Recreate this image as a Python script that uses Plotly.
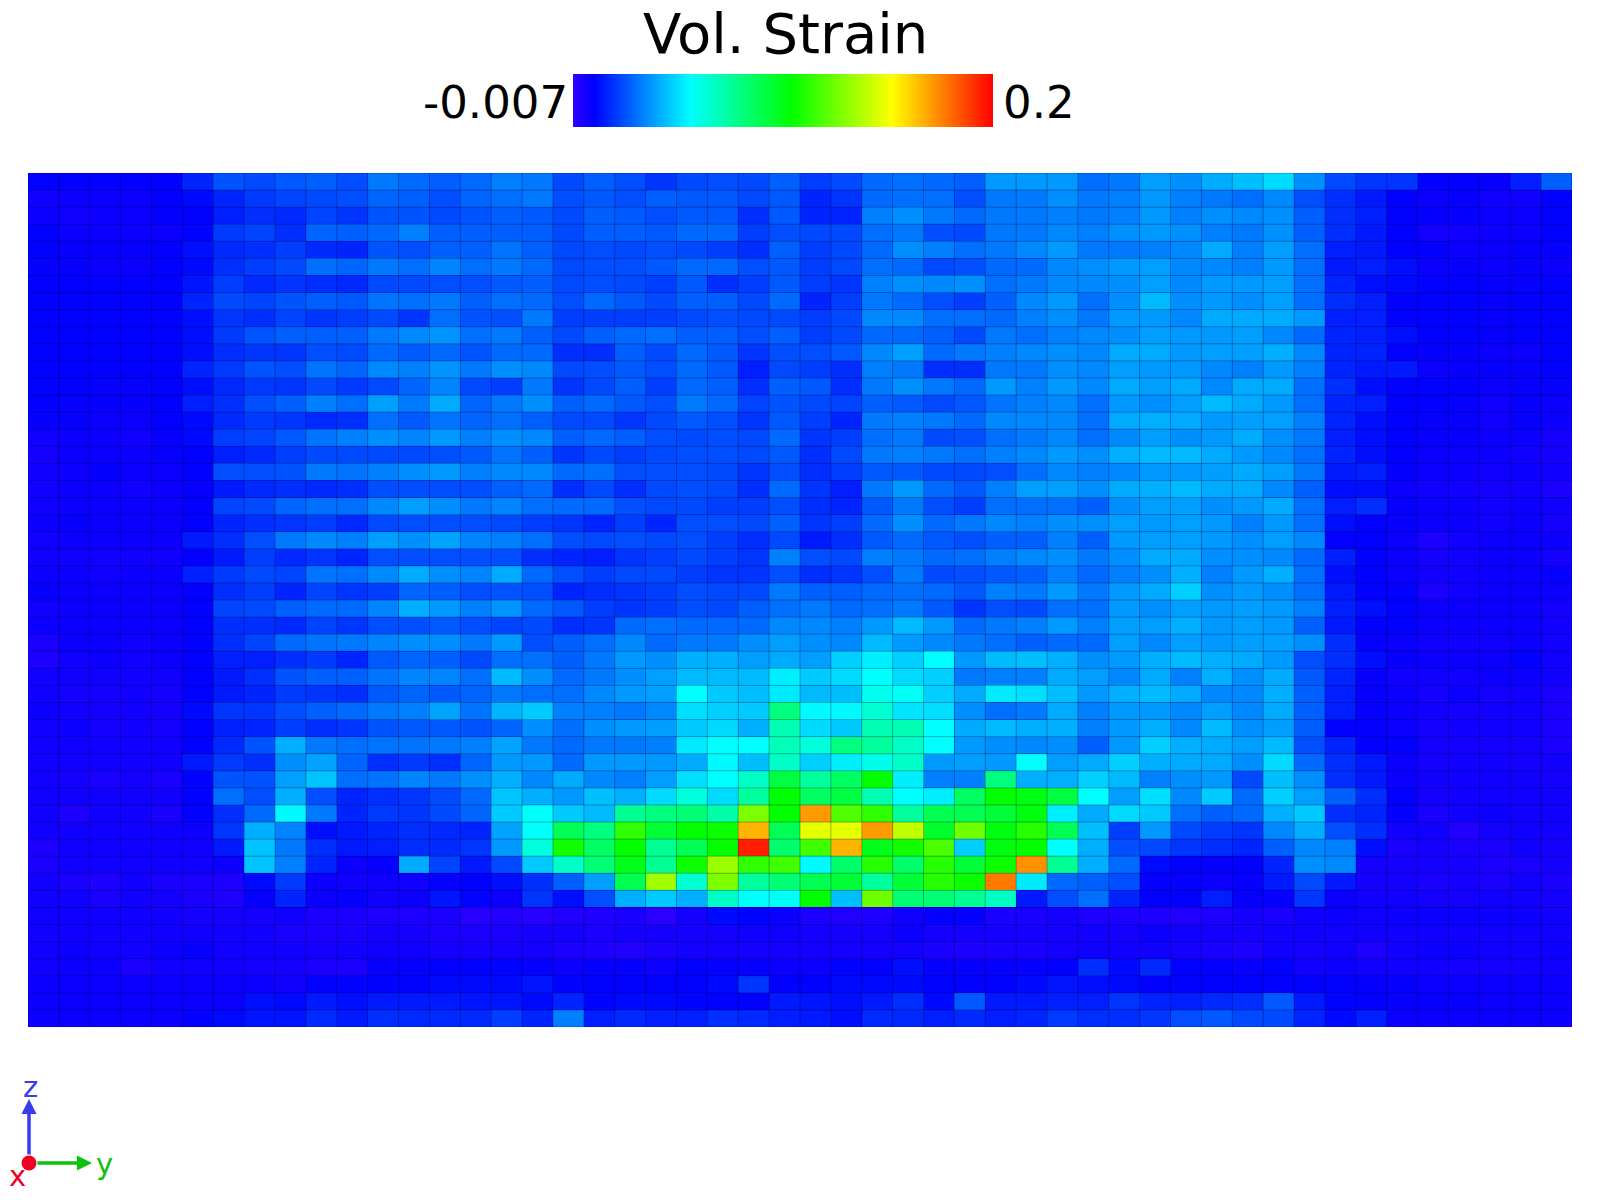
#!/usr/bin/env python3
"""Volumetric strain map on a 50 x 50 cell slice, with the y-z view triad."""
import numpy as np
import plotly.graph_objects as go

# cell values in units of 1e-3, top row of the picture first
row_00 = [3,3,3,3,3,10,19,17,20,21,18,26,23,21,23,27,26,17,21,18,13,17,18,17,21,15,17,23,24,23,21,32,32,32,24,26,33,30,35,39,44,30,17,13,13,3,3,2,9,21]
row_01 = [0,1,1,1,3,5,10,14,16,17,18,22,21,18,22,24,26,18,20,18,21,20,20,17,20,10,13,23,24,24,18,26,26,30,26,27,32,27,26,24,29,18,12,8,3,1,2,0,0,3]
row_02 = [1,0,1,1,2,3,9,12,11,16,13,19,19,17,19,21,20,17,21,20,18,20,20,12,20,10,10,27,30,26,23,26,26,27,26,27,32,27,30,29,30,21,12,9,3,2,2,1,1,3]
row_03 = [3,1,1,1,1,4,14,16,12,22,21,23,27,21,21,21,21,17,21,21,20,23,23,15,18,17,17,24,26,18,17,26,26,29,27,30,32,30,27,26,30,21,12,8,3,-1,0,1,1,3]
row_04 = [3,2,2,2,3,6,11,12,15,11,10,19,18,21,21,25,21,17,18,17,18,17,15,12,21,15,17,23,30,27,24,26,29,32,26,26,27,29,35,27,33,24,9,8,3,3,1,1,2,2]
row_05 = [2,2,1,1,3,5,12,15,17,24,22,26,24,28,24,26,23,17,18,18,20,23,23,18,20,15,17,24,23,17,18,23,23,29,30,32,33,29,29,27,32,24,8,9,6,1,2,1,2,1]
row_06 = [3,3,3,3,3,7,15,11,13,12,11,17,17,18,18,20,21,17,18,17,15,20,12,15,20,15,13,27,30,29,30,24,26,29,29,30,33,29,32,32,33,24,10,6,5,3,3,2,2,3]
row_07 = [3,3,3,3,3,10,17,16,19,21,20,25,24,26,21,24,23,18,23,20,17,21,21,17,23,10,15,26,23,18,15,21,29,32,24,30,38,30,32,30,33,24,12,9,3,3,3,2,3,3]
row_08 = [3,3,3,3,3,6,13,12,16,13,15,17,13,24,19,18,26,15,15,15,15,17,18,17,17,15,17,29,29,24,24,23,27,30,26,32,32,29,35,35,35,32,9,9,3,3,3,2,3,3]
row_09 = [3,3,3,3,3,6,14,19,21,21,21,26,29,31,24,26,21,17,21,23,24,21,21,18,21,15,17,23,23,21,17,26,24,27,29,30,33,32,32,33,29,23,10,9,6,3,3,2,3,3]
row_10 = [3,3,3,3,3,6,12,13,13,18,17,23,20,23,19,23,23,12,12,21,17,23,20,13,18,18,20,29,33,23,26,27,29,30,29,35,35,32,33,33,36,29,10,10,3,2,2,1,1,3]
row_11 = [3,3,3,3,3,10,14,19,18,25,22,29,27,31,26,30,29,17,18,20,18,23,20,9,17,15,12,27,26,12,12,26,26,30,29,33,32,32,29,27,32,27,10,8,8,1,2,2,2,3]
row_12 = [3,3,2,2,3,6,11,14,13,17,14,17,22,28,17,15,26,13,17,21,15,23,21,12,21,20,12,26,30,26,23,32,27,32,29,35,33,35,29,35,35,24,12,6,3,3,3,1,2,2]
row_13 = [3,2,2,2,3,9,12,18,21,27,24,33,26,35,22,26,30,21,23,20,18,26,23,16,19,17,16,21,20,17,20,25,27,29,24,32,30,33,38,35,32,24,10,9,3,3,2,0,2,1]
row_14 = [2,2,1,1,3,5,11,14,13,11,12,24,20,25,22,24,21,17,17,13,17,20,18,13,20,15,10,26,27,26,23,29,29,29,24,35,36,35,32,33,33,27,10,6,3,2,2,0,2,1]
row_15 = [0,1,1,0,2,5,15,16,20,25,27,30,28,32,27,30,29,21,23,21,18,17,18,17,23,13,15,24,26,17,18,24,26,29,24,29,33,30,32,35,30,26,9,6,3,2,2,1,1,-1]
row_16 = [-1,1,1,1,2,3,9,11,15,17,17,17,17,18,20,25,21,13,17,15,17,18,18,17,20,12,17,26,27,26,24,27,29,32,30,36,38,38,35,32,29,24,10,6,3,1,1,1,0,-1]
row_17 = [0,1,2,1,1,3,18,18,19,26,25,27,30,32,27,29,29,23,24,18,18,18,17,13,18,12,15,20,20,17,17,18,24,29,27,29,32,32,33,35,33,26,8,9,2,1,1,0,1,0]
row_18 = [0,1,1,0,1,2,8,11,12,11,12,18,18,18,18,21,23,12,17,12,17,18,17,12,23,13,9,26,32,23,20,27,33,33,30,35,36,38,35,35,29,21,6,6,1,0,0,-1,0,-2]
row_19 = [0,1,1,1,1,3,16,17,22,24,24,29,33,30,26,28,24,23,23,18,17,17,15,15,18,12,10,20,26,18,15,24,24,24,21,30,33,33,30,32,35,24,9,12,2,1,1,0,1,0]
row_20 = [1,2,1,1,1,3,10,12,13,15,11,17,18,18,18,17,15,13,10,15,10,18,18,17,21,13,15,23,30,23,26,29,27,30,30,33,32,33,32,27,32,24,6,3,2,1,1,0,1,-1]
row_21 = [0,1,1,1,1,8,12,18,26,29,27,33,30,34,28,27,24,18,17,18,17,18,15,12,17,8,12,20,23,20,18,21,21,27,21,32,33,33,32,30,33,29,3,3,1,-2,0,1,1,1]
row_22 = [0,0,0,0,0,3,8,15,11,13,10,18,18,18,18,18,12,10,9,13,15,17,15,13,27,18,17,27,26,23,24,27,29,30,26,30,35,35,30,30,29,23,9,3,1,-1,0,1,1,-1]
row_23 = [1,1,0,1,1,9,14,17,16,25,24,29,35,30,28,35,23,18,15,17,17,15,13,13,18,12,13,18,26,17,18,20,21,27,23,27,30,36,27,32,36,24,6,3,1,0,0,1,1,2]
row_24 = [2,1,1,1,1,3,12,15,10,16,13,15,22,21,18,19,18,10,12,13,15,18,17,17,26,21,21,23,24,23,20,27,26,32,26,32,35,42,30,32,30,24,8,3,3,-2,0,1,1,1]
row_25 = [0,1,1,1,1,3,16,17,21,23,23,28,36,32,27,31,23,20,15,13,15,18,17,21,24,26,23,24,26,20,13,18,17,24,24,32,30,33,32,33,32,27,9,6,3,1,1,1,1,-1]
row_26 = [1,1,1,1,1,3,12,12,11,16,13,18,18,20,18,16,17,12,13,23,24,23,23,23,29,29,27,32,38,32,23,26,27,32,27,33,33,36,32,33,32,21,8,3,3,1,1,1,1,0]
row_27 = [-2,1,1,0,1,3,12,16,23,25,26,28,30,30,26,32,18,21,24,29,23,26,26,30,33,30,29,38,32,29,26,24,21,23,23,33,29,33,32,33,33,30,12,2,1,0,0,0,1,0]
row_28 = [-3,0,1,0,1,3,9,9,12,14,10,20,22,21,17,24,24,21,26,32,30,36,36,33,35,33,42,48,42,51,32,38,39,36,30,32,36,38,36,35,32,18,12,6,2,1,1,1,3,0]
row_29 = [0,0,0,0,0,3,8,12,19,21,21,25,28,28,24,38,30,23,26,30,33,38,38,38,48,41,44,51,44,42,26,27,27,35,33,29,35,27,36,30,35,20,10,2,0,0,0,1,1,0]
row_30 = [0,-1,-1,0,-1,3,8,10,14,13,12,20,22,20,22,26,24,24,29,32,33,51,41,39,47,38,39,54,53,42,35,47,45,39,32,36,38,35,29,29,36,21,9,2,1,-1,1,-1,0,-2]
row_31 = [1,0,-1,0,-1,5,13,13,18,21,23,26,27,34,25,37,41,27,27,26,29,45,42,41,76,50,50,60,46,45,30,24,26,35,27,32,32,29,33,29,35,21,9,2,1,0,-1,0,0,-2]
row_32 = [0,1,-1,0,-1,3,9,10,15,12,13,19,20,20,19,22,30,24,30,32,33,41,44,36,66,44,41,66,66,51,35,38,36,36,27,32,36,29,38,30,33,21,3,2,1,-1,0,0,0,-2]
row_33 = [0,0,0,0,0,3,11,19,36,26,24,25,25,26,27,34,26,23,26,26,27,47,51,51,65,58,76,70,62,51,32,30,29,30,21,32,42,36,35,33,38,18,10,3,3,-1,-1,-1,-1,-2]
row_34 = [0,0,0,0,0,8,14,12,30,34,22,12,14,12,22,32,32,23,32,32,32,35,50,39,62,42,48,55,62,32,33,32,51,33,35,42,36,35,35,30,44,23,12,8,1,-1,0,0,-1,0]
row_35 = [0,-1,-2,-1,-2,4,19,19,33,40,24,25,28,26,30,36,29,35,29,27,33,45,51,62,88,70,82,101,48,27,27,76,36,36,42,38,27,30,32,17,39,30,12,8,1,0,0,0,0,-1]
row_36 = [0,0,0,0,0,3,24,18,36,18,10,12,13,17,23,40,36,32,39,36,44,58,44,70,100,82,88,66,51,48,82,101,97,88,51,33,45,29,41,23,42,33,21,12,3,-1,0,0,0,0]
row_37 = [0,-3,0,0,-2,3,12,23,50,26,10,14,13,17,22,41,52,41,38,72,76,78,68,125,101,170,116,110,70,85,85,90,98,48,35,44,41,24,21,23,36,41,12,10,2,-2,0,1,0,0]
row_38 = [0,0,0,0,0,1,13,36,28,6,8,10,12,11,10,34,52,84,76,110,90,101,103,165,84,145,145,170,138,92,122,98,108,84,39,15,32,17,15,13,29,36,18,12,0,0,-4,-1,0,0]
row_39 = [-3,0,0,0,0,0,8,40,26,12,8,9,12,11,13,32,58,104,82,101,72,84,101,194,80,113,165,96,104,115,42,98,101,51,36,18,17,13,12,10,21,29,27,6,-2,-1,-2,-2,0,-1]
row_40 = [-2,0,0,0,0,0,1,40,27,10,1,2,35,16,8,17,41,62,78,96,72,103,131,110,113,50,80,108,80,108,90,103,172,72,36,23,5,3,2,3,10,30,29,-1,-1,-1,-1,-2,-2,-1]
row_41 = [0,-2,-3,0,-2,-2,-3,5,14,1,0,0,0,2,3,6,12,21,33,85,132,60,125,70,78,85,90,70,90,108,103,176,47,23,21,18,2,2,1,2,8,17,8,-1,-1,-2,-1,-2,0,-2]
row_42 = [0,0,-2,0,-1,-2,-3,2,10,1,2,0,1,7,4,1,13,6,18,36,41,36,62,51,53,101,39,122,78,78,72,63,8,18,24,10,3,3,9,2,2,13,1,0,0,-1,-1,0,0,-1]
row_43 = [0,0,0,0,0,-1,-1,-1,0,-2,-2,-3,-3,-2,-5,-4,-5,-4,-3,-2,-6,-1,5,4,1,-3,-4,-3,0,2,2,-2,-2,-1,-3,-3,-3,-4,-3,-1,-2,0,1,0,1,1,1,1,1,0]
row_44 = [0,0,0,0,0,0,0,0,-2,-2,-2,-1,-1,-2,-2,-2,-1,-1,-2,-1,-1,-1,-1,0,0,-1,-1,-1,1,-1,-1,-1,-1,-1,0,-1,1,0,-1,-1,0,0,0,0,0,0,0,0,0,0]
row_45 = [0,1,0,0,1,2,0,0,0,-1,0,0,0,-1,-1,-1,-1,-2,-3,-4,-2,-1,-1,-1,-1,-1,-1,-1,-1,-2,-3,-2,-2,-1,0,0,0,-1,-2,-3,0,-1,0,-3,0,1,1,0,0,1]
row_46 = [0,1,1,-2,0,0,0,-1,-1,-2,-2,2,2,3,3,4,2,1,2,2,1,3,2,2,1,1,4,3,6,2,2,2,2,3,12,5,11,3,3,2,3,0,1,0,0,0,-1,-1,0,0]
row_47 = [1,1,1,1,1,1,1,1,0,3,4,4,3,5,5,5,7,4,3,3,3,3,5,13,3,3,5,5,5,4,3,3,5,7,6,5,3,4,3,3,3,3,3,2,2,1,1,1,1,1]
row_48 = [1,1,1,1,1,1,1,6,5,8,6,8,8,8,7,7,5,10,4,5,5,4,3,3,8,7,6,8,12,5,20,8,8,9,9,13,10,9,11,12,20,8,4,3,2,2,2,1,1,1]
row_49 = [1,1,1,1,1,3,5,7,7,11,8,12,11,11,11,15,10,27,9,11,9,9,12,11,9,8,6,11,11,9,11,9,10,14,12,12,13,18,20,17,17,10,5,9,1,1,1,1,1,1]

rows = [
    row_00, row_01, row_02, row_03, row_04, row_05, row_06, row_07, row_08, row_09,
    row_10, row_11, row_12, row_13, row_14, row_15, row_16, row_17, row_18, row_19,
    row_20, row_21, row_22, row_23, row_24, row_25, row_26, row_27, row_28, row_29,
    row_30, row_31, row_32, row_33, row_34, row_35, row_36, row_37, row_38, row_39,
    row_40, row_41, row_42, row_43, row_44, row_45, row_46, row_47, row_48, row_49,
]
strain = np.array(rows) / 1000.0

z_min = -0.007
z_max = 0.2
bar_title = "Vol. Strain"
bar_labels = ["-0.007", "0.2"]

colorscale = [
    [0.0, "#3000ff"],
    [0.05, "#0000ff"],
    [0.28, "#00ffff"],
    [0.52, "#00ff00"],
    [0.76, "#ffff00"],
    [1.0, "#ff0000"],
]

FONT = "DejaVu Sans"
WIDTH, HEIGHT = 1600, 1200
LEFT, RIGHT, TOP, BOTTOM = 28, 1572, 173, 1027


def px(x):
    return (x - LEFT) / (RIGHT - LEFT)


def py(y):
    return (BOTTOM - y) / (BOTTOM - TOP)


n_rows, n_cols = strain.shape

fig = go.Figure()
fig.add_trace(go.Heatmap(
    z=strain,
    x=np.arange(n_cols),
    y=np.arange(n_rows),
    zmin=z_min,
    zmax=z_max,
    colorscale=colorscale,
    hoverongaps=False,
    colorbar=dict(
        orientation="h",
        lenmode="pixels",
        len=420,
        thicknessmode="pixels",
        thickness=53,
        x=px(782.5),
        xanchor="center",
        y=py(126.5),
        yanchor="bottom",
        xpad=0,
        ypad=0,
        outlinewidth=0,
        borderwidth=0,
        ticks="",
        showticklabels=False,
    ),
))

# thin dark mesh over the cells
mesh_x = []
mesh_y = []
for edge in np.arange(n_cols + 1) - 0.5:
    mesh_x += [edge, edge, None]
    mesh_y += [-0.5, n_rows - 0.5, None]
for edge in np.arange(n_rows + 1) - 0.5:
    mesh_x += [-0.5, n_cols - 0.5, None]
    mesh_y += [edge, edge, None]
fig.add_trace(go.Scatter(
    x=mesh_x, y=mesh_y, mode="lines",
    line=dict(color="rgba(0,0,40,0.3)", width=1),
    hoverinfo="skip", showlegend=False,
))

annotations = [
    dict(x=px(785), y=py(33), text=bar_title, font=dict(size=56), xanchor="center"),
    dict(x=px(570), y=py(102), text=bar_labels[0], font=dict(size=45), xanchor="right"),
    dict(x=px(1001), y=py(102), text=bar_labels[1], font=dict(size=45), xanchor="left"),
    # view triad, tails stop at the red dot
    dict(x=px(29), y=py(1099), ax=0, ay=57, text="", showarrow=True,
         arrowhead=2, arrowsize=0.86, arrowwidth=3.5, arrowcolor="#3a3aee"),
    dict(x=px(92), y=py(1163), ax=-56, ay=0, text="", showarrow=True,
         arrowhead=2, arrowsize=0.86, arrowwidth=3.5, arrowcolor="#10c010"),
    dict(x=px(30), y=py(1087), text="z", font=dict(size=29, color="#3a3aee"), xanchor="center"),
    dict(x=px(104), y=py(1164), text="y", font=dict(size=29, color="#10c010"), xanchor="center"),
    dict(x=px(17), y=py(1176), text="x", font=dict(size=29, color="#f00020"), xanchor="center"),
]
for note in annotations:
    note.update(xref="paper", yref="paper", yanchor="middle")
    note.setdefault("showarrow", False)

fig.update_layout(
    width=WIDTH,
    height=HEIGHT,
    margin=dict(l=LEFT, r=WIDTH - RIGHT, t=TOP, b=HEIGHT - BOTTOM, pad=0, autoexpand=False),
    paper_bgcolor="white",
    plot_bgcolor="white",
    font=dict(family=FONT, color="black"),
    showlegend=False,
    xaxis=dict(visible=False, range=[-0.5, n_cols - 0.5]),
    yaxis=dict(visible=False, range=[n_rows - 0.5, -0.5]),
    annotations=annotations,
    shapes=[dict(
        type="circle", xref="paper", yref="paper",
        x0=px(21.5), x1=px(36.5), y0=py(1170.5), y1=py(1155.5),
        fillcolor="#f00020", line=dict(width=0), layer="above",
    )],
)

# drop the default body margin so the figure fills the window
fig.write_html(
    "out.html",
    config={"displayModeBar": False},
    post_script="document.body.style.margin = '0';",
)
